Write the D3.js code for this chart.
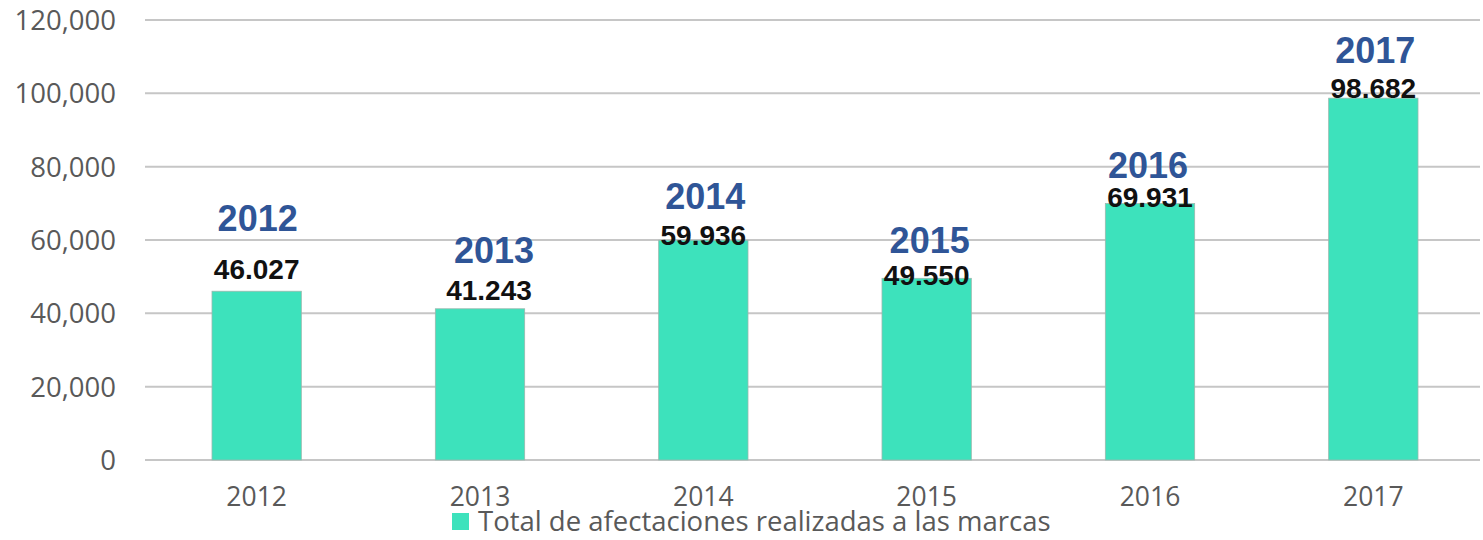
<!DOCTYPE html>
<html>
<head>
<meta charset="utf-8">
<script src="https://cdn.jsdelivr.net/npm/d3@7"></script>
<style>
  body { margin: 0; background: #fff; }
  svg { display: block; }
</style>
</head>
<body>
<svg id="canvas" width="1483" height="540"></svg>
<script>
// data
const years = ['2012', '2013', '2014', '2015', '2016', '2017'];
const totals = [46027, 41243, 59936, 49550, 69931, 98682];
const valueLabels = ['46.027', '41.243', '59.936', '49.550', '69.931', '98.682'];
const yTicks = [0, 20000, 40000, 60000, 80000, 100000, 120000];
const legendText = 'Total de afectaciones realizadas a las marcas';

// the labels sit a bit differently above each bar, so nudge them (px, from bar top)
const valueNudge = [-12, -9, 5, 7, 3, 0];
const yearNudge = [-60, -46, -31, -25, -26, -35];
const yearShift = [1, 14, 2, 3, -2, 2];

const canvas = d3.select('#canvas');

const x = d3.scaleBand()
  .domain(years)
  .range([145, 1485])
  .paddingInner(0.6)
  .paddingOuter(0.3);

const y = d3.scaleLinear()
  .domain([0, 120000])
  .range([460, 20]);

const fmt = d3.format(',');

// gridlines
canvas.append('g')
  .selectAll('line')
  .data(yTicks)
  .enter()
  .append('line')
  .attr('x1', 145)
  .attr('x2', 1480)
  .attr('y1', (d) => y(d))
  .attr('y2', (d) => y(d))
  .attr('stroke', '#c6c6c6')
  .attr('stroke-width', 2);

// y axis labels
canvas.append('g')
  .selectAll('text')
  .data(yTicks)
  .enter()
  .append('text')
  .attr('x', 116)
  .attr('y', (d) => y(d))
  .attr('dy', '0.36em')
  .attr('text-anchor', 'end')
  .attr('font-family', '"Open Sans", sans-serif')
  .attr('font-size', 27.5)
  .attr('fill', '#595959')
  .text((d) => fmt(d));

// bars
canvas.append('g')
  .selectAll('rect')
  .data(totals)
  .enter()
  .append('rect')
  .attr('x', (d, i) => x(years[i]))
  .attr('y', (d) => y(d))
  .attr('width', x.bandwidth())
  .attr('height', (d) => y(0) - y(d))
  .attr('fill', '#3de2bc')
  .attr('stroke', '#9ab8ae')
  .attr('stroke-width', 0.8);

// x axis labels
canvas.append('g')
  .selectAll('text')
  .data(years)
  .enter()
  .append('text')
  .attr('x', (d) => x(d) + x.bandwidth() / 2)
  .attr('y', 506)
  .attr('text-anchor', 'middle')
  .attr('font-family', '"Open Sans", sans-serif')
  .attr('font-size', 26.5)
  .attr('fill', '#595959')
  .text((d) => d);

// value labels
canvas.append('g')
  .selectAll('text')
  .data(totals)
  .enter()
  .append('text')
  .attr('x', (d, i) => x(years[i]) + x.bandwidth() / 2 + (i === 1 ? 9 : 0))
  .attr('y', (d, i) => y(d) + valueNudge[i])
  .attr('text-anchor', 'middle')
  .attr('font-family', '"Liberation Sans", Arial, sans-serif')
  .attr('font-weight', 'bold')
  .attr('font-size', 28)
  .attr('fill', '#111')
  .text((d, i) => valueLabels[i]);

// blue year labels above the bars
canvas.append('g')
  .selectAll('text')
  .data(totals)
  .enter()
  .append('text')
  .attr('x', (d, i) => x(years[i]) + x.bandwidth() / 2 + yearShift[i])
  .attr('y', (d, i) => y(d) + yearNudge[i])
  .attr('text-anchor', 'middle')
  .attr('font-family', '"Liberation Sans", Arial, sans-serif')
  .attr('font-weight', 'bold')
  .attr('font-size', 36)
  .attr('fill', '#2f5597')
  .text((d, i) => years[i]);

// legend
const legend = canvas.append('g').attr('transform', 'translate(452,513)');
legend.append('rect')
  .attr('width', 17)
  .attr('height', 17)
  .attr('fill', '#3de2bc');
legend.append('text')
  .attr('x', 26)
  .attr('y', 18)
  .attr('font-family', '"Open Sans", sans-serif')
  .attr('font-size', 27.5)
  .attr('fill', '#595959')
  .text(legendText);
</script>
</body>
</html>
